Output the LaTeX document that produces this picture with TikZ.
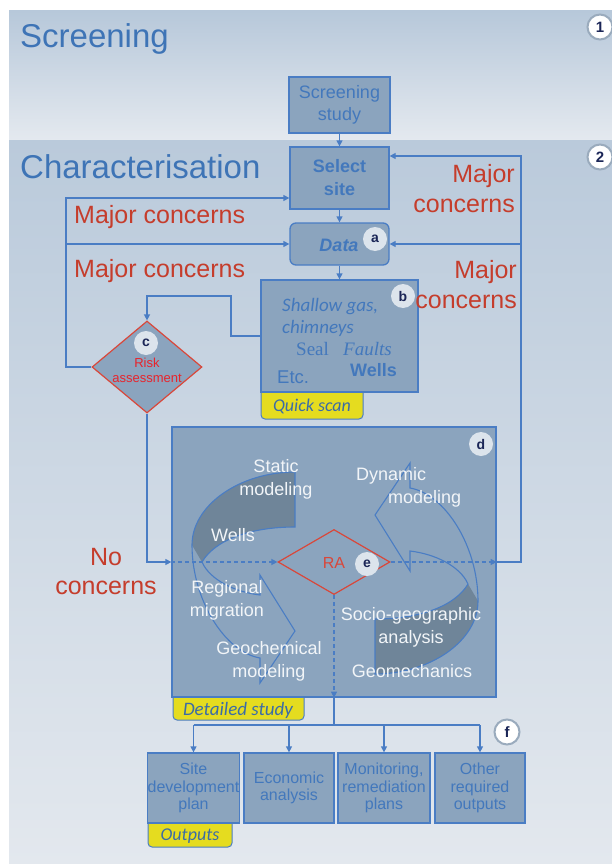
\documentclass[tikz,border=0pt]{standalone}
\usepackage{fontspec}
\setmainfont{Liberation Sans}
\newfontfamily\calib{Carlito}
\newfontfamily\tnr{Liberation Serif}
\usetikzlibrary{arrows.meta,shapes.geometric}
\definecolor{lineC}{HTML}{4A7DC4}
\definecolor{boxC}{HTML}{8BA4BE}
\definecolor{darkC}{HTML}{6F8599}
\definecolor{txtB}{HTML}{4378BC}
\definecolor{titleC}{HTML}{3E74B6}
\definecolor{redC}{HTML}{C53D2C}
\definecolor{riskR}{HTML}{E8232B}
\definecolor{raR}{HTML}{D9473A}
\definecolor{tagY}{HTML}{E5DC1F}
\definecolor{labC}{HTML}{DCE4EC}
\definecolor{navy}{HTML}{1B2657}
\definecolor{ringC}{HTML}{9AABBD}
\definecolor{bgA}{HTML}{B7C8DA}
\definecolor{bgB}{HTML}{E4E9EF}
\definecolor{bgC}{HTML}{BACADB}
\definecolor{bgD}{HTML}{E3E8EE}
\definecolor{qsC}{HTML}{3B6CA6}
\definecolor{whT}{HTML}{F2F5F8}
\tikzset{
  ln/.style={draw=lineC, line width=1.3pt},
  arr/.style={ln, -{Triangle[length=6pt,width=6pt]}},
  darr/.style={arr, dash pattern=on 4pt off 3pt},
  box/.style={draw=lineC, fill=boxC, line width=1.3pt, inner sep=0pt},
  lab/.style={circle, fill=labC, inner sep=0pt, minimum size=24pt, text=navy, font=\bfseries\fontsize{14}{14}\selectfont},
  num/.style={circle, fill=white, draw=ringC, line width=2pt, inner sep=0pt, minimum size=25pt, text=navy, font=\bfseries\fontsize{15}{15}\selectfont},
  tagbox/.style={fill=tagY, draw=lineC, line width=1pt, rounded corners=4pt},
  concern/.style={text=redC, font=\fontsize{25}{30}\selectfont, inner sep=0pt},
  wt/.style={text=whT, font=\fontsize{18}{23}\selectfont, align=center, inner sep=0pt},
  outbox/.style={box, minimum height=70pt, text=txtB, font=\fontsize{16}{17.5}\selectfont, align=center},
  arrowband/.style={draw=lineC, line width=1.1pt}
}
\begin{document}
\begin{tikzpicture}[x=1pt,y=-1pt]
\useasboundingbox (0,0) rectangle (612,864);
\fill[white] (0,0) rectangle (612,864);
% backgrounds
\shade[top color=bgA, bottom color=bgB] (9,11) rectangle (612,140);
\shade[top color=bgC, bottom color=bgD] (9,140) rectangle (612,864);

% titles
\node[anchor=base west, text=titleC, font=\fontsize{33}{33}\selectfont, inner sep=0pt] (t1) at (20,48) {Screening};
\node[anchor=base west, text=titleC, font=\fontsize{33}{33}\selectfont, inner sep=0pt] (t2) at (20,178) {Characterisation};
\node[num] (n1) at (600,27) {1};
\node[num] (n2) at (600,157) {2};

% top boxes
\node[box, minimum width=101pt, minimum height=56pt, text=txtB, font=\fontsize{18}{22}\selectfont, align=center] (ss) at (339.5,105) {Screening\\study};
\node[box, minimum width=99pt, minimum height=62pt, text=txtB, font=\bfseries\fontsize{18}{23}\selectfont, align=center] (site) at (339.5,178) {Select\\site};
\node[box, rounded corners=6pt, minimum width=99pt, minimum height=42pt] (data) at (339.5,244) {};
\node[text=txtB, font=\bfseries\itshape\fontsize{18}{18}\selectfont, anchor=base, inner sep=0pt] (datat) at (339,251) {Data};
\node[lab] (la) at (375,239) {a};

% quick scan
\node[tagbox, minimum width=102pt, minimum height=32pt, inner sep=0pt] (qs) at (312,403) {};
\node[box, minimum width=157pt, minimum height=112pt] (b) at (339.5,336) {};
\node[text=qsC, font=\calib\itshape\fontsize{18}{18}\selectfont, inner sep=0pt] (qst) at (312,406) {Quick scan};
\node[lab] (lb) at (403,296) {b};
\node[anchor=base west, text=txtB, font=\calib\itshape\fontsize{19}{19}\selectfont, inner sep=0pt] (sg) at (282,311) {Shallow gas,};
\node[anchor=base west, text=txtB, font=\calib\itshape\fontsize{19}{19}\selectfont, inner sep=0pt] (ch) at (282,333) {chimneys};
\node[anchor=base west, text=txtB, font=\tnr\fontsize{19}{19}\selectfont, inner sep=0pt] (seal) at (296,355) {Seal};
\node[anchor=base west, text=txtB, font=\tnr\itshape\fontsize{19}{19}\selectfont, inner sep=0pt] (faults) at (343,355) {Faults};
\node[anchor=base west, text=txtB, font=\fontsize{18.5}{18.5}\selectfont, inner sep=0pt] (etc) at (277,383) {Etc.};
\node[anchor=base west, text=txtB, font=\bfseries\fontsize{18}{18}\selectfont, inner sep=0pt] (wells) at (350,376) {Wells};

% risk assessment diamond
\node[diamond, draw=raR, fill=boxC, line width=1.2pt, minimum width=110pt, minimum height=92pt, inner sep=0pt] (c) at (147,367) {};
\node[lab] (lc) at (146,343) {c};
\node[text=riskR, font=\fontsize{13}{15}\selectfont, align=center, inner sep=0pt] (ct) at (147,370) {Risk\\assessment};

% concerns labels
\node[concern, anchor=base west] (mc1) at (74,223) {Major concerns};
\node[concern, anchor=base west] (mc2) at (74,277) {Major concerns};
\node[concern, anchor=base east] (mc3a) at (515,182) {Major};
\node[concern, anchor=base east] (mc3b) at (515,212) {concerns};
\node[concern, anchor=base east] (mc4a) at (517,278) {Major};
\node[concern, anchor=base east] (mc4b) at (517,308) {concerns};
\node[concern, anchor=base] (nc1) at (106,565) {No};
\node[concern, anchor=base] (nc2) at (106,594) {concerns};

% detailed study
\node[tagbox, minimum width=131pt, minimum height=28pt, inner sep=0pt] (ds) at (238.5,706) {};
\node[box, minimum width=324pt, minimum height=270pt] (det) at (334,562) {};
\node[text=qsC, font=\calib\itshape\fontsize{19}{19}\selectfont, inner sep=0pt] (dst) at (238,710) {Detailed study};
\node[lab] (ld) at (481,444) {d};

% circular arrows
\fill[darkC] (295,472) .. controls (240,472) and (192,505) .. (192,545) -- (202,562) .. controls (215,540) and (250,527) .. (295,527) -- cycle;
\draw[arrowband] (295,472) .. controls (240,472) and (192,505) .. (192,545) .. controls (192,600) and (225,652) .. (260,658) -- (260,683) -- (295,631) -- (260,575) -- (260,595) .. controls (235,592) and (210,580) .. (202,562) .. controls (215,540) and (250,527) .. (295,527) -- cycle;
\begin{scope}[rotate around={180:(335,573)}]
\fill[darkC] (295,472) .. controls (240,472) and (192,505) .. (192,545) -- (202,562) .. controls (215,540) and (250,527) .. (295,527) -- cycle;
\draw[arrowband] (295,472) .. controls (240,472) and (192,505) .. (192,545) .. controls (192,600) and (225,652) .. (260,658) -- (260,683) -- (295,631) -- (260,575) -- (260,595) .. controls (235,592) and (210,580) .. (202,562) .. controls (215,540) and (250,527) .. (295,527) -- cycle;
\end{scope}

% RA diamond
\node[diamond, draw=raR, line width=1.2pt, minimum width=112pt, minimum height=65pt, inner sep=0pt] (ra) at (334,562) {};
\node[text=raR, font=\fontsize{16}{16}\selectfont, inner sep=0pt] (rat) at (334,563) {RA};
\node[lab] (le) at (367,564) {e};

% texts inside detailed box
\node[wt] (st) at (276,479) {Static\\modeling};
\node[wt, align=left, anchor=west] (dy) at (356,487) {Dynamic\\\hspace*{32pt}modeling};
\node[wt] (we) at (233,535) {Wells};
\node[wt] (rm) at (227,600) {Regional\\migration};
\node[wt] (gc) at (269,661) {Geochemical\\modeling};
\node[wt] (so) at (411,627) {Socio-geographic\\analysis};
\node[wt] (gm) at (412,671) {Geomechanics};

% outputs
\node[tagbox, minimum width=84pt, minimum height=30pt, inner sep=0pt] (ot) at (190,832) {};
\node[outbox, minimum width=91pt] (o1) at (193.5,788) {Site\\development\\plan};
\node[outbox, minimum width=90pt] (o2) at (289,788) {Economic\\analysis};
\node[outbox, minimum width=92pt] (o3) at (384,788) {Monitoring,\\remediation\\plans};
\node[outbox, minimum width=90pt] (o4) at (480,788) {Other\\required\\outputs};
\node[text=qsC, font=\calib\itshape\fontsize{18}{18}\selectfont, inner sep=0pt] (ott) at (190,836) {Outputs};
\node[num] (nf) at (507,732) {f};

% coordinates
\coordinate (Lt) at (66,198);
\coordinate (Lb) at (66,367);
\coordinate (Rt) at (521,156);
\coordinate (Rb) at (521,562);
\coordinate (B1) at (231,336);
\coordinate (B2) at (231,296);
\coordinate (J) at (334,725);

% connectors
\draw[arr] (ss.south) -- (site.north);
\draw[arr] (site.south) -- (data.north);
\draw[arr] (data.south) -- (b.north);
\draw[arr] (c.west) -- (Lb) -- (Lt) -- (site.west |- Lt);
\draw[arr] (Lt |- data.west) -- (data.west);
\draw[arr] (det.east) -- (Rb) -- (Rt) -- (site.east |- Rt);
\draw[arr] (Rt |- data.east) -- (data.east);
\draw[arr] (b.west) -- (B1) -- (B2) -- (c.north |- B2) -- (c.north);
\draw[arr] (c.south) |- (det.west);
\draw[darr] (det.west) -- (ra.west);
\draw[darr] (ra.east) -- (det.east);
\draw[darr] (ra.south) -- (det.south);
\draw[ln] (det.south) -- (J);
\draw[ln] (o1.north |- J) -- (o4.north |- J);
\foreach \o in {o1,o2,o3,o4} {\draw[arr] (\o.north |- J) -- (\o.north);}
\end{tikzpicture}
\end{document}
